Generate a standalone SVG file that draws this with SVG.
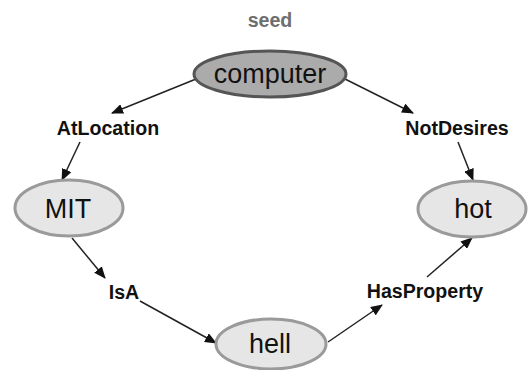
<svg xmlns="http://www.w3.org/2000/svg" width="529" height="370" viewBox="0 0 529 370">
<style>
.node{fill:#e6e6e6;stroke:#9a9a9a;stroke-width:3}
.seed{fill:#ababab;stroke:#555;stroke-width:3}
.nt{font-family:"Liberation Sans",Arial,sans-serif;font-size:27px;fill:#111;text-anchor:middle}
.lb{font-family:"Liberation Sans",Arial,sans-serif;font-size:19.6px;font-weight:bold;fill:#111;text-anchor:middle}
.edge{stroke:#222;stroke-width:1.5;fill:none;marker-end:url(#ah)}
</style>
<defs>
<marker id="ah" viewBox="0 0 12 10" refX="11" refY="5" markerWidth="12" markerHeight="10" markerUnits="userSpaceOnUse" orient="auto">
<path d="M0,0 L12,5 L0,10 Z" fill="#111"/>
</marker>
</defs>
<text x="270" y="27" class="lb" style="fill:#6e6e6e">seed</text>
<g id="connectors">
<line class="edge" x1="196" y1="79" x2="112" y2="113"/>
<line class="edge" x1="80" y1="142" x2="62" y2="180"/>
<line class="edge" x1="345" y1="79" x2="413" y2="113"/>
<line class="edge" x1="458" y1="142" x2="473" y2="180"/>
<line class="edge" x1="72" y1="238" x2="105" y2="278"/>
<line class="edge" x1="140" y1="301" x2="216" y2="343"/>
<line class="edge" x1="328" y1="342" x2="382" y2="305"/>
<line class="edge" x1="427" y1="277" x2="472" y2="238"/>
</g>
<g id="label-AtLocation"><text x="108" y="135" class="lb">AtLocation</text></g>
<g id="label-NotDesires"><text x="457" y="135" class="lb">NotDesires</text></g>
<g id="label-IsA"><text x="124" y="299" class="lb">IsA</text></g>
<g id="label-HasProperty"><text x="425" y="298" class="lb">HasProperty</text></g>
<g id="node-computer"><ellipse class="seed" cx="270" cy="74" rx="76" ry="23"/><text x="270" y="83" class="nt">computer</text></g>
<g id="node-MIT"><ellipse class="node" cx="69" cy="208" rx="54" ry="28"/><text x="68" y="218" class="nt">MIT</text></g>
<g id="node-hot"><ellipse class="node" cx="472" cy="209" rx="54" ry="28"/><text x="473" y="218" class="nt">hot</text></g>
<g id="node-hell"><ellipse class="node" cx="271" cy="344" rx="55" ry="25"/><text x="270" y="353" class="nt">hell</text></g>
</svg>
